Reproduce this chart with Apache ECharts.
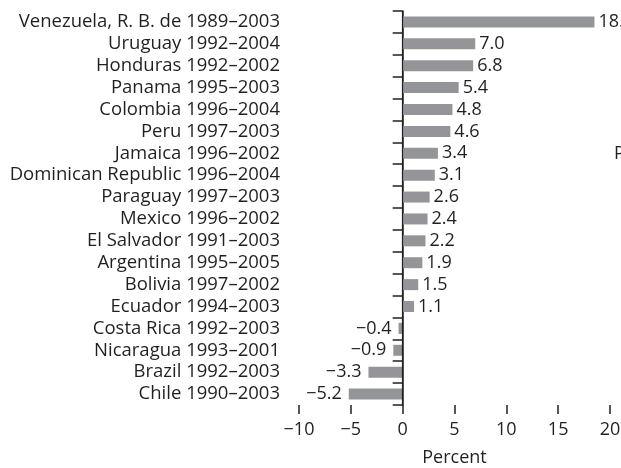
<!DOCTYPE html>
<html>
<head>
<meta charset="utf-8">
<script src="https://cdn.jsdelivr.net/npm/echarts@6/dist/echarts.min.js"></script>
<style>
  html, body { margin: 0; padding: 0; background: #fff; }
  #grafico { width: 621px; height: 468px; }
</style>
</head>
<body>
<div id="grafico"></div>
<script>
const paises = [
  'Venezuela, R. B. de 1989–2003',
  'Uruguay 1992–2004',
  'Honduras 1992–2002',
  'Panama 1995–2003',
  'Colombia 1996–2004',
  'Peru 1997–2003',
  'Jamaica 1996–2002',
  'Dominican Republic 1996–2004',
  'Paraguay 1997–2003',
  'Mexico 1996–2002',
  'El Salvador 1991–2003',
  'Argentina 1995–2005',
  'Bolivia 1997–2002',
  'Ecuador 1994–2003',
  'Costa Rica 1992–2003',
  'Nicaragua 1993–2001',
  'Brazil 1992–2003',
  'Chile 1990–2003'
]
const valores = [18.5, 7.0, 6.8, 5.4, 4.8, 4.6, 3.4, 3.1, 2.6, 2.4, 2.2, 1.9, 1.5, 1.1, -0.4, -0.9, -3.3, -5.2]
const ejeX = [-10, -5, 0, 5, 10, 15, 20]

const fuente = 'Open Sans'
const tinta = '#231f20'

function conSigno(v, dec) {
  const s = dec ? Math.abs(v).toFixed(dec) : String(Math.abs(v))
  return v < 0 ? '\u2212' + s : s
}

let myChart = echarts.init(document.getElementById('grafico'))

let option = {
  animation: false,
  textStyle: { fontFamily: fuente },
  grid: { left: 299, right: 11, top: 11, bottom: 63, outerBoundsMode: 'none', containLabel: false },
  xAxis: {
    type: 'value',
    min: ejeX[0],
    max: ejeX[ejeX.length - 1],
    interval: 5,
    name: 'Percent',
    nameLocation: 'middle',
    nameGap: 44,
    nameTextStyle: { color: tinta, fontSize: 18, fontFamily: fuente },
    axisLine: { onZero: false, lineStyle: { color: tinta, width: 1.5 } },
    axisTick: { show: true, length: 9, lineStyle: { color: tinta, width: 1.5 } },
    axisLabel: {
      color: tinta,
      fontSize: 18,
      margin: 16,
      formatter: v => conSigno(v, 0)
    },
    splitLine: { show: false }
  },
  yAxis: {
    type: 'category',
    inverse: true,
    data: paises,
    axisLine: { show: true, lineStyle: { color: tinta, width: 1.5 } },
    axisTick: { show: true, length: 10, lineStyle: { color: tinta, width: 1.5 } },
    axisLabel: { color: tinta, fontSize: 18.5, margin: 19, interval: 0 }
  },
  series: [
    {
      type: 'bar',
      data: valores.map(v => ({
        value: v,
        label: { position: v < 0 ? 'left' : 'right', distance: v < 0 ? 7 : 4 }
      })),
      barWidth: 11,
      itemStyle: { color: '#939598' },
      label: {
        show: true,
        color: tinta,
        fontSize: 18,
        fontFamily: fuente,
        formatter: p => conSigno(p.value, 1)
      },
      markLine: {
        silent: true,
        symbol: 'none',
        label: { show: false },
        lineStyle: { color: tinta, type: 'solid', width: 1.2 },
        data: [{ xAxis: 0 }]
      }
    }
  ],
  graphic: [
    {
      type: 'text',
      left: 614,
      top: 145,
      style: { text: 'P', fontSize: 18, fontFamily: fuente, fill: tinta }
    }
  ]
}

myChart.setOption(option)
</script>
</body>
</html>
